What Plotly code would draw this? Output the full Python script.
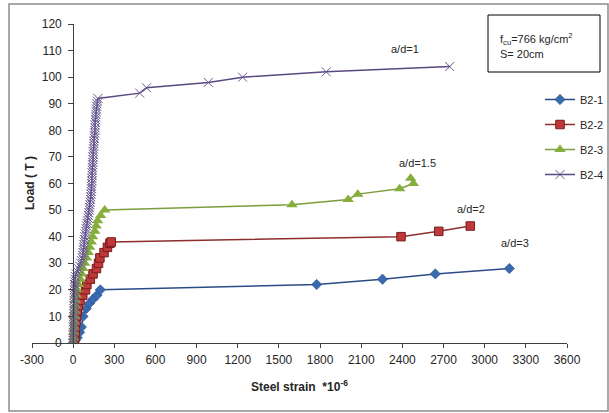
import plotly.graph_objects as go

# ---------------- data ----------------
b21_strain = [0, 15, 30, 47, 60, 72, 96, 120, 145, 174, 198, 1775, 2255, 2640, 3180]
b21_load = [0, 1, 2, 4, 6, 10, 13, 15, 16.5, 18, 20, 22, 24, 26, 28]

b22_strain = [10, 12, 14, 16, 20, 25, 30, 38, 50, 70, 90, 100, 125, 145, 170, 185, 195, 225, 250, 268, 278,
              2390, 2665, 2895]
b22_load = [0, 2, 4, 6, 8, 10, 12, 14, 16, 18, 20, 22, 24, 26, 28, 30, 32, 34, 36, 37.5, 38,
            40, 42, 44]

b23_strain = [0, 2, 4, 6, 8, 10, 12, 15, 18, 22, 28, 40, 52, 62, 72, 84, 98, 110, 120, 132, 142, 158, 168,
              178, 200, 230, 1595, 2005, 2075, 2380, 2480, 2460]
b23_load = [0, 2, 4, 6, 8, 10, 12, 14, 16, 18, 20, 22, 24, 26, 28, 30, 32, 34, 36, 38, 40, 42, 44,
            46, 48, 50, 52, 54, 56, 58, 60, 62]

b24_strain = [0, 0, 1, 2, 1, 3, 2, 4, 3, 5, 4, 6, 5, 7, 6, 8, 7, 9, 8, 10, 9, 11, 10, 12, 13,
              16, 22, 30, 38, 46, 54, 60, 66, 70, 72, 74, 76, 78, 80, 82, 84,
              88, 91, 95, 98, 101, 104, 108, 111, 115, 118,
              120, 123, 124, 127, 128, 131, 132, 134, 133, 135,
              137, 136, 139, 138, 141, 140, 143, 142, 145, 144,
              147, 146, 149, 150, 152, 151, 154, 155, 157, 158,
              160, 159, 162, 163, 165, 166, 168, 170, 172, 174, 177, 180,
              485, 535, 985, 1235, 1845, 2745]
b24_load = list(range(0, 93)) + [94, 96, 98, 100, 102, 104]

series_names = ["B2-1", "B2-2", "B2-3", "B2-4"]
ad_labels = ["a/d=1", "a/d=1.5", "a/d=2", "a/d=3"]
ad_x = [2418, 2513, 2899, 3220]
ad_y = [110.6, 67.7, 50.4, 37.6]
x_ticks = list(range(-300, 3601, 300))
x_ticktext = [str(v) for v in x_ticks]
y_ticks = list(range(0, 121, 10))

FONT = "Liberation Sans"
TXT = "#262626"

fig = go.Figure()
fig.add_trace(go.Scatter(
    x=b21_strain, y=b21_load, name=series_names[0], mode="lines+markers", legendgroup="a",
    line=dict(color="#2B4C86", width=1.5),
    marker=dict(symbol="diamond", size=8, color="#3A6AAE", line=dict(color="#2B4C86", width=0.5))))
fig.add_trace(go.Scatter(
    x=b22_strain, y=b22_load, name=series_names[1], mode="lines+markers", legendgroup="b",
    line=dict(color="#8E2F2D", width=1.5),
    marker=dict(symbol="square", size=8.5, color="#C0393A", line=dict(color="#7A1A1A", width=1))))
fig.add_trace(go.Scatter(
    x=b23_strain, y=b23_load, name=series_names[2], mode="lines+markers", legendgroup="c",
    line=dict(color="#7E9E3E", width=1.5),
    marker=dict(symbol="triangle-up", size=10, color="#86AE3C", line=dict(color="#86AE3C", width=0))))
fig.add_trace(go.Scatter(
    x=b24_strain, y=b24_load, name=series_names[3], mode="lines+markers", legendgroup="d",
    line=dict(color="#5A4880", width=1.5),
    marker=dict(symbol="x-thin-open", size=9, color="#6A5A94", line=dict(color="#6A5A94", width=1))))

# plot area: x 32..567, y 24..343
L, R, T, B = 32, 42, 24, 70
W = 609 - L - R
H = 413 - T - B

def px(x):
    return (x - L) / W

def py(y):
    return (413 - B - y) / H

for lab, xv, yv in zip(ad_labels, ad_x, ad_y):
    fig.add_annotation(x=xv, y=yv, xref="x", yref="y", text=lab, showarrow=False,
                       font=dict(family=FONT, size=11, color=TXT))

# axis titles
fig.add_annotation(x=px(21), y=py(183), xref="paper", yref="paper", text="<b>Load ( T )</b>",
                   textangle=-90, showarrow=False, font=dict(family=FONT, size=12, color=TXT))
fig.add_annotation(x=px(299), y=py(383), xref="paper", yref="paper", yanchor="middle",
                   text="<b>Steel strain  *10<sup>-6</sup></b>", showarrow=False,
                   font=dict(family=FONT, size=12, color=TXT), yshift=-3)

# info box
fig.add_shape(type="rect", xref="paper", yref="paper", x0=px(488), x1=px(600), y0=py(72), y1=py(15),
              line=dict(color="#000000", width=1), fillcolor="white")
fig.add_annotation(x=px(498), y=py(29), xref="paper", yref="paper", xanchor="left",
                   text="f<sub>cu</sub>=766 kg/cm<sup>2</sup>", showarrow=False,
                   font=dict(family=FONT, size=11, color=TXT))
fig.add_annotation(x=px(498), y=py(46), xref="paper", yref="paper", xanchor="left",
                   text="S= 20cm", showarrow=False, font=dict(family=FONT, size=11, color=TXT))

# outer frame
fig.add_shape(type="rect", xref="paper", yref="paper", x0=px(9), x1=px(608), y0=py(411), y1=py(4),
              line=dict(color="#8C8C8C", width=1.5), layer="below")

fig.update_layout(
    width=609, height=413,
    margin=dict(l=L, r=R, t=T, b=B, autoexpand=False),
    paper_bgcolor="white", plot_bgcolor="white",
    font=dict(family=FONT, size=12, color=TXT),
    showlegend=True,
    legend=dict(x=px(540), y=py(85), xanchor="left", yanchor="top", bgcolor="rgba(0,0,0,0)",
                font=dict(family=FONT, size=11, color=TXT), tracegroupgap=6, itemwidth=30),
    xaxis=dict(range=[-300, 3600], tickvals=x_ticks, ticktext=x_ticktext, ticks="outside", ticklen=4,
               tickcolor="#404040", showline=True, linecolor="#404040", linewidth=1, showgrid=False,
               zeroline=False, tickfont=dict(family=FONT, size=12, color=TXT), ticklabelstandoff=2),
    yaxis=dict(range=[0, 120], tickvals=y_ticks, ticks="outside", ticklen=5, tickcolor="#404040",
               showline=True, linecolor="#404040", linewidth=1, showgrid=False, zeroline=False,
               anchor="free", position=300 / 3900, ticklabelstandoff=4,
               tickfont=dict(family=FONT, size=12, color=TXT)),
)

fig.write_html("out.html")
